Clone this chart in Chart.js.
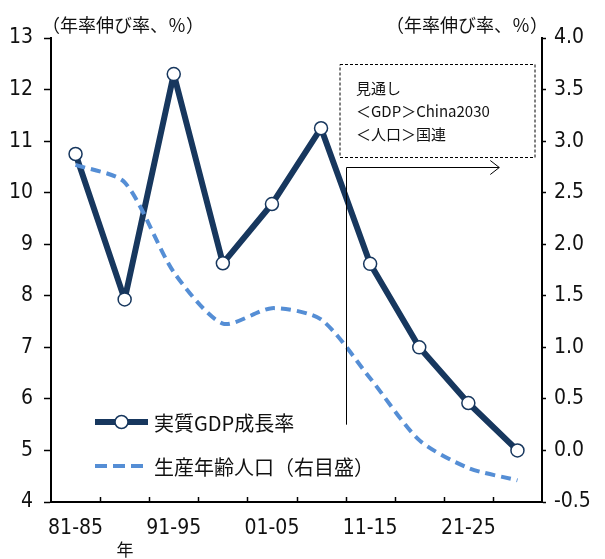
<!DOCTYPE html>
<html>
<head>
<meta charset="utf-8">
<script src="https://cdn.jsdelivr.net/npm/chart.js@4"></script>
<style>
html,body{margin:0;padding:0;background:#fff;}
#wrap{width:605px;height:559px;}
</style>
</head>
<body>
<div id="wrap"><canvas id="c" width="605" height="559"></canvas></div>
<script>
// ---- data ----
const categories = ['81-85','86-90','91-95','96-00','01-05','06-10','11-15','16-20','21-25','26-30'];
const gdpGrowth = [10.75, 7.93, 12.3, 8.63, 9.78, 11.25, 8.62, 7.0, 5.92, 5.0];
const workingAgePop = [2.77, 2.6, 1.73, 1.23, 1.38, 1.27, 0.7, 0.1, -0.17, -0.29];
const seriesNames = ['実質GDP成長率', '生産年齢人口（右目盛）'];
const axisTitle = '（年率伸び率、％）';
const xAxisUnit = '年';
const noteLines = ['見通し', '＜GDP＞China2030', '＜人口＞国連'];

const NAVY = '#17375E';
const LBLUE = '#558ED5';
const CJK = "'Noto Sans CJK JP', sans-serif";
const NUM = "'Liberation Sans Narrow', 'DejaVu Sans Condensed', 'Noto Sans CJK JP', sans-serif";

const extras = {
  id: 'extras',
  afterDatasetsDraw(chart) {
    const ctx = chart.ctx;
    const x = chart.scales.x, y = chart.scales.y;
    const ca = chart.chartArea;
    const step = x.getPixelForValue(1) - x.getPixelForValue(0);
    ctx.save();
    // inward x-axis tick marks at category boundaries
    ctx.strokeStyle = '#000';
    ctx.lineWidth = 1.5;
    for (let i = 1; i < categories.length; i++) {
      const px = Math.round(x.getPixelForValue(i) - step / 2) + 0.5;
      ctx.beginPath();
      ctx.moveTo(px, ca.bottom);
      ctx.lineTo(px, ca.bottom - 5);
      ctx.stroke();
    }
    // forecast arrow (from 2010 boundary)
    const bx = Math.round(x.getPixelForValue(5.5)) + 0.5;
    const ay = Math.round(y.getPixelForValue(10.5)) + 0.5;
    const ybot = y.getPixelForValue(5.5);
    const ax = x.getPixelForValue(9) - step * 0.37;
    ctx.lineWidth = 1;
    ctx.strokeStyle = '#000';
    ctx.beginPath();
    ctx.moveTo(bx, ybot);
    ctx.lineTo(bx, ay);
    ctx.lineTo(ax, ay);
    ctx.stroke();
    ctx.beginPath();
    ctx.moveTo(ax - 9, ay - 7);
    ctx.lineTo(ax, ay);
    ctx.lineTo(ax - 9, ay + 7);
    ctx.stroke();
    // dashed note box
    const boxL = bx - 6.5, boxR = ca.right - 7, boxT = 64.5, boxB = 157.5;
    ctx.setLineDash([3, 2]);
    ctx.strokeRect(boxL, boxT, boxR - boxL, boxB - boxT);
    ctx.setLineDash([]);
    ctx.fillStyle = '#111';
    ctx.font = '15px ' + CJK;
    ctx.textAlign = 'left';
    ctx.textBaseline = 'middle';
    const ny = [88, 111, 134];
    noteLines.forEach((t, i) => ctx.fillText(t, boxL + 16, ny[i]));

    // legend
    const ds0 = chart.data.datasets[0], ds1 = chart.data.datasets[1];
    ctx.lineCap = 'butt';
    ctx.strokeStyle = ds0.borderColor;
    ctx.lineWidth = ds0.borderWidth;
    ctx.beginPath();
    ctx.moveTo(95, 422); ctx.lineTo(148, 422); ctx.stroke();
    ctx.beginPath();
    ctx.arc(121.5, 422, ds0.pointRadius, 0, Math.PI * 2);
    ctx.fillStyle = '#fff'; ctx.fill();
    ctx.lineWidth = ds0.pointBorderWidth; ctx.stroke();
    ctx.strokeStyle = ds1.borderColor;
    ctx.lineWidth = ds1.borderWidth;
    ctx.setLineDash([12, 6]);
    ctx.beginPath();
    ctx.moveTo(95, 466); ctx.lineTo(143, 466); ctx.stroke();
    ctx.setLineDash([]);
    ctx.fillStyle = '#111';
    ctx.font = '20px ' + CJK;
    ctx.fillText(ds0.label, 154, 423);
    ctx.fillText(ds1.label, 154, 467);

    // axis unit titles
    ctx.font = '18px ' + CJK;
    ctx.textAlign = 'left';
    ctx.fillText(axisTitle, 42, 25);
    ctx.textAlign = 'right';
    ctx.fillText(axisTitle, 548, 25);
    ctx.font = '17px ' + CJK;
    ctx.textAlign = 'center';
    ctx.fillText(xAxisUnit, 125, 550);
    ctx.restore();
  }
};

new Chart(document.getElementById('c'), {
  type: 'line',
  data: {
    labels: categories,
    datasets: [
      {
        label: seriesNames[0],
        data: gdpGrowth,
        yAxisID: 'y',
        borderColor: NAVY,
        borderWidth: 6,
        borderJoinStyle: 'round',
        pointRadius: 6.5,
        pointBackgroundColor: '#fff',
        pointBorderColor: NAVY,
        pointBorderWidth: 1.5,
        tension: 0,
        order: 1
      },
      {
        label: seriesNames[1],
        data: workingAgePop,
        yAxisID: 'y1',
        borderColor: LBLUE,
        borderWidth: 4,
        borderDash: [10, 6],
        pointRadius: 0,
        tension: 0.25,
        order: 0
      }
    ]
  },
  options: {
    responsive: false,
    animation: false,
    events: [],
    layout: { padding: { top: 38, left: 0, right: 0, bottom: 0 } },
    plugins: { legend: { display: false }, tooltip: { enabled: false }, title: { display: false } },
    scales: {
      x: {
        type: 'category',
        offset: true,
        grid: { display: false, drawTicks: false },
        border: { display: true, color: '#000', width: 2 },
        ticks: {
          autoSkip: false, maxRotation: 0, minRotation: 0, padding: 14,
          color: '#111', font: { family: NUM, size: 21 },
          callback: function (v, i) { return i % 2 === 0 ? categories[i] : ''; }
        },
        afterFit: s => { s.height = 57; }
      },
      y: {
        position: 'left',
        min: 4, max: 13,
        grid: { display: true, drawOnChartArea: false, drawTicks: true, tickLength: 7, tickColor: '#000', tickWidth: 1.5 },
        border: { display: true, color: '#000', width: 2 },
        ticks: { stepSize: 1, padding: 11, color: '#111', font: { family: NUM, size: 21 } },
        afterFit: s => { s.width = 51; }
      },
      y1: {
        position: 'right',
        min: -0.5, max: 4.0,
        grid: { display: true, drawOnChartArea: false, drawTicks: true, tickLength: 4, tickColor: '#000', tickWidth: 1.5 },
        border: { display: true, color: '#000', width: 2 },
        ticks: { stepSize: 0.5, padding: 8, color: '#111', font: { family: NUM, size: 21 },
          callback: v => Number(v).toFixed(1) },
        afterFit: s => { s.width = 63; }
      }
    }
  },
  plugins: [extras]
});
</script>
</body>
</html>
